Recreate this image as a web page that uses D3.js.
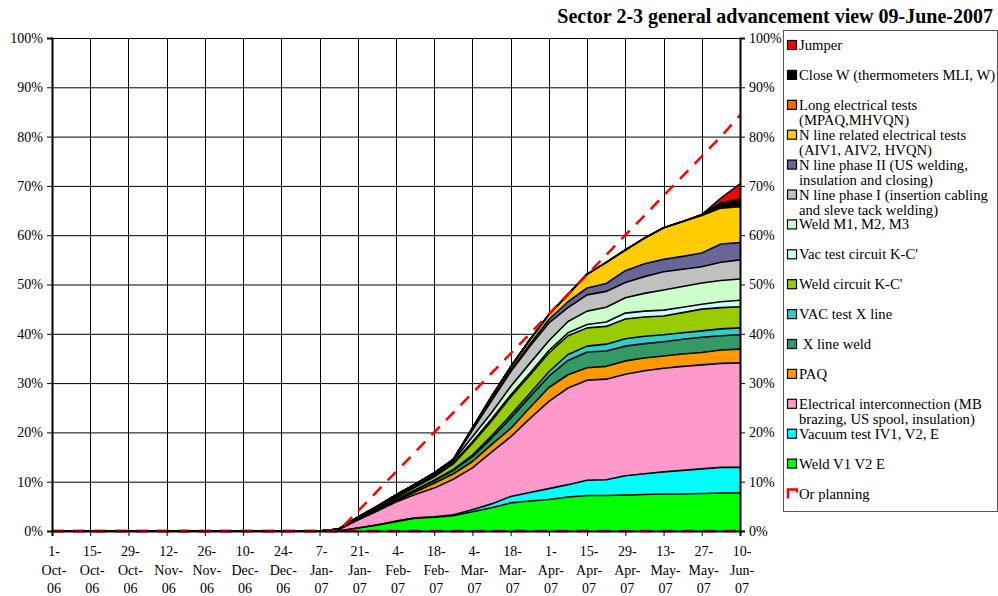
<!DOCTYPE html>
<html>
<head>
<meta charset="utf-8">
<script src="https://cdn.jsdelivr.net/npm/d3@7"></script>
<style>
  body { margin: 0; background: #fff; }
  text { font-family: "Liberation Serif", "DejaVu Serif", serif; fill: #000; }
</style>
</head>
<body>
<div></div>
<script>
// weekly reporting dates (first one only anchors the flat zero part)
const dates = ["2006-10-01", "2007-01-07", "2007-01-14", "2007-01-21", "2007-01-28", "2007-02-04",
  "2007-02-11", "2007-02-18", "2007-02-25", "2007-03-04", "2007-03-11", "2007-03-18", "2007-03-25",
  "2007-04-01", "2007-04-08", "2007-04-15", "2007-04-22", "2007-04-29", "2007-05-06", "2007-05-13",
  "2007-05-20", "2007-05-27", "2007-06-03", "2007-06-10"];

// progress per activity, % (stacked bottom to top)
const weldV    = [0, 0, 0, 0.6, 1.2, 1.9, 2.6, 2.8, 3.1, 3.9, 4.7, 5.7, 6.1, 6.4, 6.9, 7.2, 7.2, 7.3, 7.4, 7.5, 7.5, 7.6, 7.7, 7.7];
const vacTest  = [0, 0, 0, 0, 0, 0.1, 0.1, 0.1, 0.2, 0.4, 0.8, 1.3, 1.7, 2.2, 2.5, 3.1, 3.2, 3.9, 4.2, 4.5, 4.8, 5.0, 5.2, 5.2];
const elecInt  = [0, 0, 0.3, 1.6, 2.8, 3.9, 4.7, 5.8, 7.2, 8.5, 10.5, 12.1, 15.0, 17.7, 19.6, 20.3, 20.4, 20.6, 20.9, 21.0, 21.1, 21.1, 21.1, 21.2];
const paq      = [0, 0, 0, 0.1, 0.15, 0.2, 0.5, 1.0, 1.1, 1.3, 1.5, 1.7, 2.2, 2.8, 2.7, 2.5, 2.6, 2.7, 2.6, 2.5, 2.5, 2.5, 2.7, 2.8];
const xWeld    = [0, 0, 0, 0.1, 0.15, 0.2, 0.35, 0.5, 0.7, 1.0, 1.3, 2.1, 2.2, 2.3, 2.9, 3.2, 3.1, 3.0, 2.9, 2.9, 3.0, 3.1, 2.9, 2.9];
const vacX     = [0, 0, 0, 0, 0, 0.05, 0.05, 0.1, 0.2, 0.3, 0.5, 0.6, 0.7, 0.9, 1.2, 1.2, 1.4, 1.5, 1.5, 1.4, 1.3, 1.3, 1.4, 1.4];
const weldKC   = [0, 0, 0, 0.1, 0.3, 0.4, 0.6, 0.7, 1.1, 2.4, 3.0, 3.7, 3.7, 3.8, 3.8, 3.7, 3.6, 4.0, 3.9, 3.8, 4.1, 4.4, 4.3, 4.3];
const vacKC    = [0, 0, 0, 0, 0, 0.05, 0.05, 0.1, 0.2, 0.3, 0.4, 0.4, 0.4, 0.5, 0.6, 0.7, 0.9, 1.2, 1.2, 1.2, 1.1, 1.0, 1.2, 1.3];
const weldM    = [0, 0, 0, 0.1, 0.15, 0.2, 0.25, 0.3, 0.4, 1.0, 1.3, 1.7, 2.0, 2.0, 2.3, 2.7, 3.0, 3.1, 3.6, 4.1, 4.2, 4.3, 4.3, 4.3];
const nLine1   = [0, 0, 0.1, 0.2, 0.25, 0.3, 0.3, 0.4, 0.3, 1.4, 2.4, 3.0, 3.4, 3.6, 2.8, 3.3, 3.2, 3.1, 3.4, 3.7, 3.5, 3.3, 3.7, 3.9];
const nLine2   = [0, 0, 0, 0, 0, 0, 0, 0, 0, 0, 0.3, 0.3, 0.5, 0.7, 1.2, 1.4, 1.6, 2.4, 2.6, 2.5, 2.6, 2.8, 3.7, 3.5];
const nElec    = [0, 0, 0, 0, 0, 0, 0, 0, 0, 0.4, 0.6, 0.7, 0.9, 1.0, 1.5, 2.8, 4.3, 4.2, 5.2, 6.4, 7.1, 7.6, 7.3, 7.3];
const longElec = [0, 0, 0, 0, 0, 0, 0, 0, 0, 0, 0, 0, 0, 0, 0, 0, 0, 0, 0, 0, 0, 0.1, 0.3, 0.3];
const closeW   = [0, 0, 0, 0, 0, 0, 0, 0, 0, 0, 0, 0, 0, 0, 0, 0, 0, 0, 0, 0, 0, 0.1, 0.8, 1.2];
const jumper   = [0, 0, 0, 0, 0, 0, 0, 0, 0, 0, 0, 0, 0, 0, 0, 0, 0, 0, 0, 0, 0, 0, 0.9, 3.1];

// planning line
const planDates = ["2006-10-01", "2007-01-14", "2007-01-21", "2007-01-28", "2007-02-04", "2007-02-11",
  "2007-02-18", "2007-02-25", "2007-03-04", "2007-03-11", "2007-03-18", "2007-03-25", "2007-04-01",
  "2007-04-08", "2007-04-15", "2007-04-22", "2007-04-29", "2007-05-06", "2007-05-13", "2007-05-20",
  "2007-05-27", "2007-06-03", "2007-06-10"];
const planning = [0, 0, 4, 8, 12, 16, 20, 24, 28, 32, 36, 40, 44, 48, 52, 56, 60, 64, 68, 72, 76, 80, 84.3];

const xTickLabels = ["1-Oct-06", "15-Oct-06", "29-Oct-06", "12-Nov-06", "26-Nov-06", "10-Dec-06",
  "24-Dec-06", "7-Jan-07", "21-Jan-07", "4-Feb-07", "18-Feb-07", "4-Mar-07", "18-Mar-07",
  "1-Apr-07", "15-Apr-07", "29-Apr-07", "13-May-07", "27-May-07", "10-Jun-07"];
const yTicks = [0, 10, 20, 30, 40, 50, 60, 70, 80, 90, 100];

const keys = ["weldV", "vacTest", "elecInt", "paq", "xWeld", "vacX", "weldKC", "vacKC",
  "weldM", "nLine1", "nLine2", "nElec", "longElec", "closeW", "jumper"];
const values = { weldV, vacTest, elecInt, paq, xWeld, vacX, weldKC, vacKC,
  weldM, nLine1, nLine2, nElec, longElec, closeW, jumper };
const colors = {
  weldV: "#00ff00", vacTest: "#00ffff", elecInt: "#ff99cc", paq: "#ff9900",
  xWeld: "#339966", vacX: "#33cccc", weldKC: "#99cc00", vacKC: "#ccffff",
  weldM: "#ccffcc", nLine1: "#c0c0c0", nLine2: "#666699", nElec: "#ffcc00",
  longElec: "#ff6600", closeW: "#000000", jumper: "#ff0000"
};
const labels = {
  jumper: ["Jumper"],
  closeW: ["Close W (thermometers MLI, W)"],
  longElec: ["Long electrical tests", "(MPAQ,MHVQN)"],
  nElec: ["N line related electrical tests", "(AIV1, AIV2, HVQN)"],
  nLine2: ["N line phase II (US welding,", "insulation and closing)"],
  nLine1: ["N line phase I (insertion cabling", "and sleve tack welding)"],
  weldM: ["Weld M1, M2, M3"],
  vacKC: ["Vac test circuit K-C'"],
  weldKC: ["Weld circuit K-C'"],
  vacX: ["VAC test X line"],
  xWeld: [" X line weld"],
  paq: ["PAQ"],
  elecInt: ["Electrical interconnection (MB", "brazing, US spool, insulation)"],
  vacTest: ["Vacuum test IV1, V2, E"],
  weldV: ["Weld V1 V2 E"]
};

const parse = d3.utcParse("%Y-%m-%d");
const parseTick = d3.utcParse("%d-%b-%y");

const rows = dates.map((d, i) => {
  const r = { date: parse(d) };
  keys.forEach(k => r[k] = values[k][i]);
  return r;
});

const svg = d3.select("div").append("svg").attr("width", 998).attr("height", 596);

const mLeft = 52, mRight = 740, mTop = 38, mBottom = 531;
const x = d3.scaleUtc().domain([parse("2006-10-01"), parse("2007-06-10")]).range([mLeft, mRight]);
const y = d3.scaleLinear().domain([0, 100]).range([mBottom, mTop]);

const tickDates = xTickLabels.map(parseTick);

// grid
svg.append("g").selectAll("line").data(yTicks).join("line")
  .attr("x1", mLeft).attr("x2", mRight)
  .attr("y1", d => y(d) + 0.5).attr("y2", d => y(d) + 0.5)
  .attr("stroke", "#000").attr("stroke-width", 1);
svg.append("g").selectAll("line").data(tickDates).join("line")
  .attr("x1", d => Math.round(x(d)) + 0.5).attr("x2", d => Math.round(x(d)) + 0.5)
  .attr("y1", mTop).attr("y2", mBottom)
  .attr("stroke", "#000").attr("stroke-width", 1);

// stacked areas
const stack = d3.stack().keys(keys);
const layers = stack(rows);

const area = d3.area()
  .x(d => x(d.data.date))
  .y0(d => y(d[0]))
  .y1(d => y(d[1]));
const topLine = d3.line()
  .x(d => x(d.data.date))
  .y(d => y(d[1]));

svg.append("g").selectAll("path").data(layers).join("path")
  .attr("d", area)
  .attr("fill", d => colors[d.key]);
svg.append("g").selectAll("path").data(layers).join("path")
  .attr("d", topLine)
  .attr("fill", "none")
  .attr("stroke", "#000")
  .attr("stroke-width", 1.6)
  .attr("stroke-linejoin", "round");

// planning
const planLine = d3.line()
  .x((d, i) => x(parse(planDates[i])))
  .y(d => y(d));
svg.append("path")
  .attr("d", planLine(planning))
  .attr("fill", "none")
  .attr("stroke", "#ff0000")
  .attr("stroke-width", 2.5)
  .attr("stroke-dasharray", "12,9");
// planning zero part along the bottom
svg.append("line")
  .attr("x1", mLeft).attr("x2", mRight)
  .attr("y1", y(0)).attr("y2", y(0))
  .attr("stroke", "#ff0000").attr("stroke-width", 2.5)
  .attr("stroke-dasharray", "12,9");

// axes
const yl = svg.append("g").attr("transform", `translate(${mLeft},0)`)
  .call(d3.axisLeft(y).tickValues(yTicks).tickFormat(d => d + "%").tickSize(5).tickPadding(4));
const yr = svg.append("g").attr("transform", `translate(${mRight},0)`)
  .call(d3.axisRight(y).tickValues(yTicks).tickFormat(d => d + "%").tickSize(5).tickPadding(4));
const xa = svg.append("g").attr("transform", `translate(0,${mBottom})`)
  .call(d3.axisBottom(x).tickValues(tickDates).tickFormat("").tickSize(5));
[yl, yr, xa].forEach(g => {
  g.selectAll("path").attr("stroke", "#000").attr("stroke-width", 2);
  g.selectAll("line").attr("stroke", "#000");
  g.selectAll("text").style("font-family", "Liberation Serif, serif").style("font-size", "14px").attr("fill", "#000");
});

// multi-line date labels
const xl = svg.append("g").selectAll("text").data(xTickLabels).join("text")
  .attr("text-anchor", "middle")
  .attr("x", (d, i) => x(tickDates[i]) + 2)
  .style("font-size", "14px");
xl.each(function (d) {
  const p = d.split("-");
  const lines = [p[0] + "-", p[1] + "-", p[2]];
  d3.select(this).selectAll("tspan").data(lines).join("tspan")
    .attr("x", d3.select(this).attr("x"))
    .attr("y", (l, j) => 556 + j * 18.5)
    .text(l => l);
});

// title
svg.append("text")
  .attr("x", 993).attr("y", 23)
  .attr("text-anchor", "end")
  .style("font-size", "20px")
  .style("font-weight", "bold")
  .text("Sector 2-3 general advancement view 09-June-2007");

// legend
const lg = svg.append("g");
lg.append("rect")
  .attr("x", 783.5).attr("y", 30.5).attr("width", 214).attr("height", 481)
  .attr("fill", "#fff").attr("stroke", "#555").attr("stroke-width", 1);

const legendKeys = keys.slice().reverse();
const rowGap = 29.9;
legendKeys.forEach((k, i) => {
  const cy = 45 + i * rowGap;
  lg.append("rect")
    .attr("x", 787.5).attr("y", cy - 4.5).attr("width", 9).attr("height", 9)
    .attr("fill", colors[k]).attr("stroke", "#000").attr("stroke-width", 1.2);
  labels[k].forEach((t, j) => {
    lg.append("text")
      .attr("x", 799).attr("y", cy + 5 + j * 15)
      .style("font-size", "14.7px")
      .style("white-space", "pre")
      .text(t);
  });
});
const py = 45 + legendKeys.length * rowGap;
lg.append("path")
  .attr("d", `M788,${py + 5} V${py - 4} H797 V${py - 1}`)
  .attr("fill", "none").attr("stroke", "#ff0000").attr("stroke-width", 2.5);
lg.append("text")
  .attr("x", 799).attr("y", py + 5)
  .style("font-size", "14.7px")
  .text("Or planning");
</script>
</body>
</html>
